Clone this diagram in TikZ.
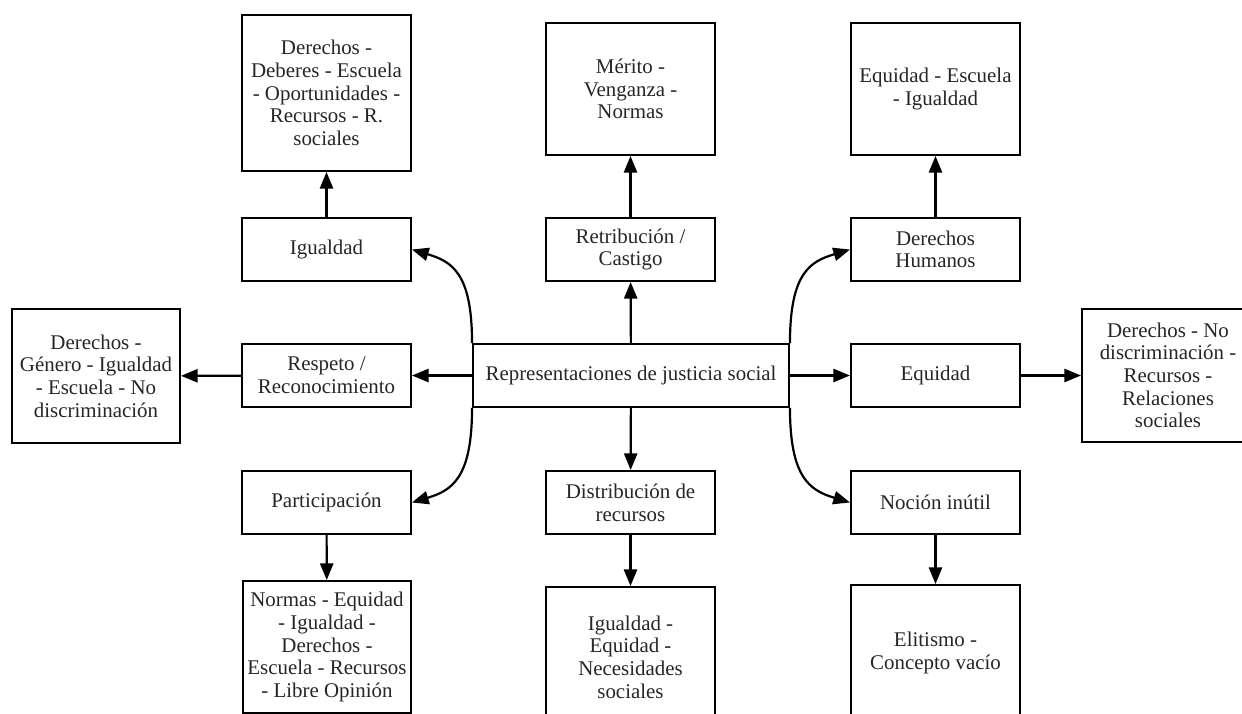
\documentclass[tikz,border=0pt]{standalone}
\usepackage{fontspec}
\setmainfont{Liberation Serif}
\usetikzlibrary{arrows.meta}
\begin{document}
\begin{tikzpicture}[x=0.02cm,y=-0.02cm,
  box/.style={draw, line width=1.1pt, align=center, inner sep=0pt,
    text=black!85, font=\fontsize{11.9}{12.9}\selectfont},
  wh/.style 2 args={minimum width=#1*0.02cm, minimum height=#2*0.02cm},
  arr/.style={line width=1.25pt, -{Triangle[length=9.5pt,width=7.5pt]}}]
\useasboundingbox (0,0) rectangle (1242,714);
\clip (0,0) rectangle (1242,714);
\fill[white] (0,0) rectangle (1242,714);
% top row
\node[box, wh={169}{156}] (tl) at (326.5,93) {Derechos -\\ Deberes - Escuela\\ - Oportunidades -\\ Recursos - R.\\ sociales};
\node[box, wh={169}{132}] (tc) at (630.5,89) {Mérito -\\ Venganza -\\ Normas};
\node[box, wh={169}{132}] (tr) at (935.5,89) {Equidad - Escuela\\ - Igualdad};
% second row
\node[box, wh={169}{63}] (igu) at (326.5,249.5) {Igualdad};
\node[box, wh={169}{63}] (ret) at (630.5,249.5) {Retribución /\\ Castigo};
\node[box, wh={169}{63}] (dh) at (935.5,249.5) {Derechos\\ Humanos};
% middle row
\node[box, wh={168}{134}] (fl) at (96,376) {Derechos -\\ Género - Igualdad\\ - Escuela - No\\ discriminación};
\node[box, wh={169}{63}] (res) at (326.5,375.5) {Respeto /\\ Reconocimiento};
\node[box, wh={316}{63}] (cen) at (631,375.5) {Representaciones de justicia social};
\node[box, wh={169}{63}] (equ) at (935.5,375.5) {Equidad};
\node[box, wh={172}{133}] (fr) at (1168,375.5) {Derechos - No\\ discriminación -\\ Recursos -\\ Relaciones\\ sociales};
% fourth row
\node[box, wh={169}{63}] (par) at (326.5,502.5) {Participación};
\node[box, wh={169}{63}] (dis) at (630.5,502.5) {Distribución de\\ recursos};
\node[box, wh={169}{63}] (noc) at (935.5,502.5) {Noción inútil};
% bottom row
\node[box, wh={168}{132}] (bl) at (327,647) {Normas - Equidad\\ - Igualdad -\\ Derechos -\\ Escuela - Recursos\\ - Libre Opinión};
\node[box, wh={169}{140}] (bc) at (630.5,657) {Igualdad -\\ Equidad -\\ Necesidades\\ sociales};
\node[box, wh={169}{136}] (br) at (935.5,653) {Elitismo -\\ Concepto vacío};
% straight connectors
\draw[arr] (igu) -- (tl);
\draw[arr] (ret) -- (tc);
\draw[arr] (dh) -- (tr);
\draw[arr] (cen) -- (ret);
\draw[arr] (cen) -- (res);
\draw[arr] (res) -- (fl);
\draw[arr] (cen) -- (equ);
\draw[arr] (equ) -- (fr);
\draw[arr] (cen) -- (dis);
\draw[arr] (dis) -- (bc);
\draw[arr] (par) -- (bl);
\draw[arr] (noc) -- (br);
% curved connectors
\draw[arr] (cen.north west) .. controls +(0,-70) and +(40,12) .. (igu.east);
\draw[arr] (cen.south west) .. controls +(0,70) and +(40,-12) .. (par.east);
\draw[arr] (cen.north east) .. controls +(0,-70) and +(-40,12) .. (dh.west);
\draw[arr] (cen.south east) .. controls +(0,70) and +(-40,-12) .. (noc.west);
\end{tikzpicture}
\end{document}
